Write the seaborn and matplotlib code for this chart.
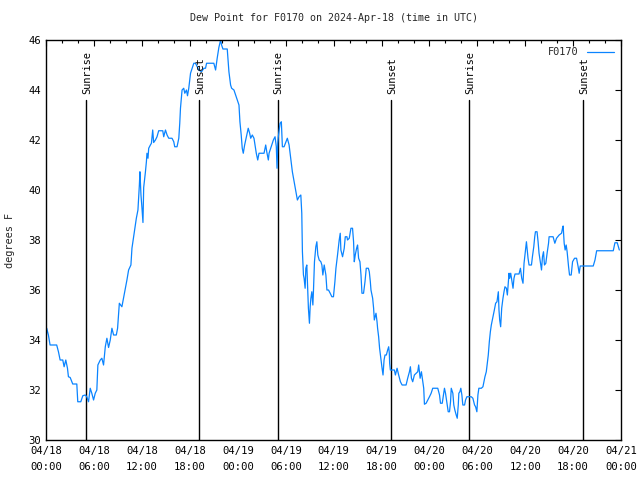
import matplotlib
matplotlib.use("Agg")
import matplotlib.pyplot as plt
from matplotlib.ticker import MultipleLocator, FixedLocator
import seaborn as sns
import pandas as pd
from datetime import datetime, timedelta

title = "Dew Point for F0170 on 2024-Apr-18 (time in UTC)"
station = "F0170"
ylabel = "degrees F"

# hours since 2024-04-18 00:00 UTC
hours = [
    0.00, 0.04, 0.25, 0.46, 1.29, 1.51, 1.72, 2.05, 2.22, 2.43, 2.64, 2.76, 2.98, 3.30, 3.81, 3.93,
    4.31, 4.56, 4.86, 5.06, 5.28, 5.49, 5.69, 5.91, 6.12, 6.32, 6.45, 6.75, 6.95, 7.16, 7.38, 7.58,
    7.79, 8.00, 8.21, 8.42, 8.76, 8.92, 9.14, 9.46, 9.68, 9.89, 10.09, 10.30, 10.59, 10.72, 10.93,
    11.06, 11.27, 11.47, 11.65, 11.72, 11.85, 11.97, 12.10, 12.19, 12.40, 12.53, 12.60, 12.73,
    12.82, 13.03, 13.16, 13.32, 13.44, 13.66, 13.86, 14.07, 14.58, 14.70, 14.92, 15.12, 15.33,
    15.74, 15.96, 16.08, 16.37, 16.59, 16.71, 16.80, 17.00, 17.21, 17.34, 17.55, 17.68, 17.84,
    18.06, 18.26, 18.47, 18.68, 18.89, 19.10, 19.44, 19.73, 19.94, 20.07, 20.98, 21.20, 21.40,
    21.61, 21.74, 21.83, 21.95, 22.12, 22.66, 22.74, 22.87, 23.08, 23.21, 23.50, 23.71, 23.91,
    24.13, 24.25, 24.41, 24.54, 24.67, 24.84, 25.04, 25.29, 25.47, 25.60, 25.80, 26.01, 26.14,
    26.30, 26.48, 26.64, 27.27, 27.48, 27.61, 27.81, 27.90, 28.11, 28.31, 28.44, 28.65, 28.81,
    28.90, 28.99, 29.06, 29.28, 29.44, 29.57, 29.78, 29.99, 30.19, 30.41, 30.62, 30.82, 31.04,
    31.25, 31.45, 31.66, 31.88, 32.00, 32.08, 32.21, 32.29, 32.42, 32.51, 32.63, 32.71, 32.83,
    32.96, 33.05, 33.14, 33.26, 33.39, 33.46, 33.59, 33.76, 33.89, 34.01, 34.18, 34.39, 34.52,
    34.64, 34.81, 35.02, 35.15, 35.35, 35.56, 35.77, 35.97, 36.15, 36.28, 36.48, 36.69, 36.82,
    36.90, 37.11, 37.32, 37.45, 37.66, 37.73, 37.95, 38.16, 38.36, 38.49, 38.58, 38.70, 38.87,
    38.99, 39.12, 39.29, 39.42, 39.54, 39.74, 39.92, 40.08, 40.34, 40.46, 40.59, 40.67, 40.88,
    41.00, 41.09, 41.30, 41.43, 41.50, 41.63, 41.75, 41.93, 42.06, 42.18, 42.31, 42.43, 42.60,
    42.76, 42.89, 42.97, 43.01, 43.10, 43.60, 43.73, 43.94, 44.14, 44.36, 44.57, 45.07, 45.27,
    45.49, 45.61, 45.74, 45.90, 46.11, 46.33, 46.53, 46.65, 46.83, 46.99, 47.16, 47.28, 47.37,
    47.58, 47.79, 48.00, 48.21, 48.41, 49.04, 49.26, 49.38, 49.60, 49.76, 49.88, 50.01, 50.17,
    50.35, 50.51, 50.64, 50.73, 50.93, 51.05, 51.18, 51.35, 51.48, 51.61, 51.68, 51.81, 51.93,
    52.06, 52.18, 52.40, 52.52, 52.69, 53.24, 53.44, 53.65, 53.78, 53.94, 54.07, 54.19, 54.50,
    54.70, 54.82, 54.95, 55.12, 55.25, 55.37, 55.50, 55.63, 55.75, 55.88, 56.00, 56.13, 56.29,
    56.46, 56.54, 56.63, 56.71, 56.80, 56.92, 57.05, 57.21, 57.34, 57.46, 57.64, 57.76, 57.89,
    57.97, 58.05, 58.18, 58.47, 58.59, 58.72, 59.22, 59.40, 59.56, 59.72, 59.85, 60.03, 60.15,
    60.35, 60.48, 60.78, 60.90, 61.07, 61.19, 61.28, 61.48, 61.61, 61.73, 61.91, 62.04, 62.16,
    62.29, 62.41, 62.58, 62.74, 62.92, 62.99, 63.49, 63.71, 63.92, 64.25, 64.55, 64.67, 64.75,
    64.88, 65.00, 65.13, 65.25, 65.43, 65.55, 65.76, 65.93, 66.18, 66.43, 66.63, 66.76, 66.89,
    68.52, 68.74, 68.95, 71.03, 71.24, 71.53, 71.79,
]

dew_point = [
    34.2, 34.47, 34.2, 33.8, 33.8, 33.53, 33.2, 33.2, 32.93, 33.2, 32.87, 32.53, 32.5, 32.24, 32.24, 31.53,
    31.53, 31.77, 31.8, 31.73, 31.53, 32.07, 31.87, 31.6, 31.87, 32.0, 33.0, 33.2, 33.27, 33.0, 33.73, 34.07,
    33.7, 34.0, 34.47, 34.2, 34.2, 34.47, 35.47, 35.33, 35.7, 36.07, 36.4, 36.8, 37.0, 37.67, 38.13,
    38.4, 38.87, 39.2, 40.2, 40.73, 39.8, 39.3, 38.7, 40.1, 40.7, 41.13, 41.47, 41.27,
    41.67, 41.8, 41.87, 42.4, 41.9, 42.0, 42.13, 42.37, 42.37, 42.13, 42.4, 42.2, 42.07,
    42.07, 41.93, 41.73, 41.73, 42.07, 42.67, 43.27, 44.0, 44.07, 43.87, 44.0, 43.77, 44.07,
    44.67, 44.87, 45.07, 45.07, 44.93, 44.8, 44.73, 44.87, 44.87, 45.07, 45.07, 44.8, 45.27,
    45.7, 45.87, 46.0, 45.8, 45.64, 45.64, 45.3, 44.73, 44.2, 44.07, 44.0, 43.8, 43.6,
    43.4, 42.73, 42.2, 41.67, 41.47, 41.8, 42.1, 42.47, 42.27, 42.07, 42.2, 42.07, 41.8,
    41.47, 41.2, 41.47, 41.47, 41.8, 41.53, 41.2, 41.47, 41.67, 41.87, 42.0, 42.13, 41.73,
    40.87, 41.87, 42.13, 42.67, 42.73, 41.73, 41.73, 41.9, 42.07, 41.8, 41.27, 40.73, 40.33,
    39.93, 39.6, 39.73, 39.8, 39.07, 37.53, 36.6, 36.47, 36.07, 36.87, 37.0, 36.33, 35.27,
    34.67, 35.33, 35.67, 35.93, 35.4, 35.93, 37.13, 37.73, 37.93, 37.4, 37.2, 37.13, 37.0,
    36.6, 37.0, 36.6, 36.0, 36.0, 35.87, 35.73, 35.73, 36.33, 36.87, 37.4, 38.0, 38.27,
    37.6, 37.33, 37.67, 38.13, 38.13, 38.0, 38.07, 38.47, 38.47, 37.93, 37.13, 37.4, 37.67,
    37.8, 37.27, 37.13, 36.6, 35.87, 35.87, 36.33, 36.87, 36.87, 36.73, 36.33, 36.0, 35.67,
    35.27, 34.8, 35.07, 34.73, 34.47, 34.13, 33.67, 33.2, 32.87, 32.6, 33.2, 33.4, 33.4,
    33.6, 33.73, 33.47, 33.07, 32.8, 32.8, 32.6, 32.87, 32.6, 32.33, 32.2, 32.2, 32.47,
    32.73, 32.93, 32.47, 32.33, 32.6, 32.67, 32.73, 33.0, 32.47, 32.73, 32.33, 32.07, 31.43,
    31.47, 31.6, 31.73, 31.87, 32.07, 32.07, 31.8, 31.47, 31.47, 31.8, 32.07, 31.87, 31.53,
    31.13, 31.13, 31.53, 32.07, 31.87, 31.4, 31.2, 31.0, 30.87, 31.4, 31.87, 31.93, 32.07,
    31.8, 31.4, 31.4, 31.6, 31.73, 31.73, 31.67, 31.4, 31.33, 31.13, 31.8, 32.07, 32.07,
    32.13, 32.33, 32.53, 32.73, 33.07, 33.4, 33.93, 34.33, 34.6, 34.8, 35.0, 35.2, 35.47,
    35.53, 35.73, 35.93, 35.2, 34.8, 34.53, 35.27, 35.67, 35.93, 36.13, 36.07, 35.8, 36.33,
    36.67, 36.47, 36.67, 36.07, 36.47, 36.64, 36.64, 36.87, 36.47, 36.27, 37.07, 37.6, 37.93,
    37.27, 37.0, 37.0, 37.33, 37.73, 38.13, 38.33, 38.33, 37.93, 37.47, 37.07, 36.8, 37.33,
    37.53, 37.0, 37.07, 37.47, 37.87, 38.13, 38.13, 37.87, 38.07, 38.2, 38.27, 38.47, 38.56,
    37.87, 37.6, 37.8, 37.53, 36.93, 36.6, 36.6, 37.13, 37.27, 37.27, 36.93, 36.67, 36.96,
    36.96, 37.2, 37.57, 37.57, 37.89, 37.89, 37.6,
]

sun_events = ["Sunrise", "Sunset", "Sunrise", "Sunset", "Sunrise", "Sunset"]
sun_hours = [5.0, 19.16, 28.98, 43.18, 53.0, 67.25]

start = datetime(2024, 4, 18)
major_hours = list(range(0, 73, 6))
major_labels = [(start + timedelta(hours=h)).strftime("%m/%d\n%H:%M") for h in major_hours]

sns.set_theme(style="white")
plt.rcParams["font.family"] = ["DejaVu Sans Mono"]
plt.rcParams["font.size"] = 7.4

df = pd.DataFrame({"hours": hours, "dew": dew_point})

fig = plt.figure(figsize=(6.4, 4.8), dpi=100)
ax = fig.add_axes([46.4 / 640, 40 / 480, (621 - 46.4) / 640, 400 / 480])

sns.lineplot(data=df, x="hours", y="dew", ax=ax, color="#0a84ff", linewidth=0.9,
             estimator=None, sort=False, label=station)

for name, h in zip(sun_events, sun_hours):
    ax.plot([h, h], [30, 43.62], color="black", linewidth=1.0, zorder=1)
    ax.text(h + 0.1, 43.85, name, rotation=90, ha="center", va="bottom",
            fontsize=7.4, color="black")

ax.set_xlim(0, 72)
ax.set_ylim(30, 46)
ax.xaxis.set_major_locator(FixedLocator(major_hours))
ax.set_xticklabels(major_labels, linespacing=1.75)
ax.xaxis.set_minor_locator(MultipleLocator(2))
ax.yaxis.set_major_locator(MultipleLocator(2))

ax.tick_params(axis="both", which="both", direction="in", top=True, right=True,
               colors="black", labelsize=7.6)
ax.tick_params(axis="both", which="major", length=4, width=0.8)
ax.tick_params(axis="x", which="minor", length=2.5, width=0.8)
ax.tick_params(axis="y", which="major", pad=4)
ax.tick_params(axis="x", which="major", pad=4.5)

for sp in ax.spines.values():
    sp.set_color("black")
    sp.set_linewidth(1.0)
    sp.set_visible(True)

ax.set_xlabel("")
ax.set_ylabel(ylabel, fontsize=7.4)
ax.yaxis.set_label_coords(-0.055, 0.5)
ax.set_title(title, fontsize=7.2, pad=14)

leg = ax.legend(loc="upper right", frameon=False, markerfirst=False,
                handlelength=2.6, borderaxespad=0.3, fontsize=7.4)

fig.savefig("out.png", dpi=100)
